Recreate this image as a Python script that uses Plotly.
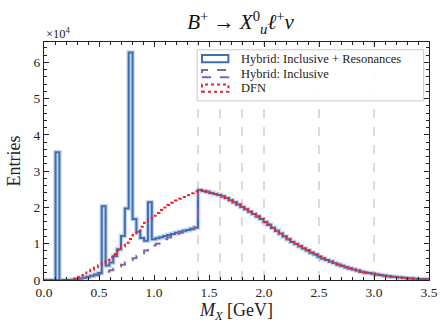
import numpy as np
import plotly.graph_objects as go

# ---- data (units of 1e4 entries), 100 bins of 0.035 GeV from 0 to 3.5 ----
bin_lo, bin_hi, n_bins = 0.0, 3.5, 100

tail = [2.48, 2.45, 2.43, 2.40, 2.37, 2.34, 2.30, 2.26, 2.20, 2.14,
        2.08, 2.01, 1.95, 1.88, 1.82, 1.75, 1.68, 1.60, 1.52, 1.44,
        1.36, 1.28, 1.20, 1.12, 1.05, 0.99, 0.93, 0.87, 0.81, 0.75,
        0.70, 0.64, 0.59, 0.55, 0.51, 0.47, 0.43, 0.39, 0.35, 0.32,
        0.29, 0.26, 0.23, 0.21, 0.19, 0.17, 0.15, 0.135, 0.12, 0.105,
        0.09, 0.08, 0.07, 0.06, 0.05, 0.042, 0.035, 0.03, 0.025, 0.02]

hybrid_res = [0, 0, 0, 3.52, 0, 0, 0, 0.01, 0.02, 0.04,
              0.06, 0.09, 0.12, 0.15, 0.19, 2.03, 0.40, 0.48, 0.66, 0.85,
              1.21, 1.97, 6.27, 1.68, 1.33, 1.16, 1.08, 2.14, 1.12, 1.15,
              1.18, 1.21, 1.24, 1.27, 1.30, 1.33, 1.36, 1.38, 1.41, 1.45] + tail

hybrid_incl = [0, 0, 0, 0, 0, 0, 0, 0.0, 0.02, 0.04,
               0.06, 0.08, 0.10, 0.13, 0.16, 0.19, 0.23, 0.27, 0.32, 0.37,
               0.42, 0.48, 0.54, 0.60, 0.67, 0.74, 0.81, 0.88, 0.95, 1.00,
               1.06, 1.12, 1.17, 1.22, 1.26, 1.30, 1.34, 1.37, 1.40, 1.44] + tail

dfn = [0, 0, 0, 0, 0, 0, 0.0, 0.02, 0.05, 0.09,
       0.14, 0.21, 0.28, 0.35, 0.41, 0.47, 0.55, 0.63, 0.72, 0.82,
       0.92, 1.03, 1.13, 1.24, 1.35, 1.47, 1.58, 1.68, 1.77, 1.85,
       1.93, 2.00, 2.07, 2.13, 2.19, 2.24, 2.29, 2.34, 2.39, 2.44] + tail

vlines = [1.4, 1.6, 1.8, 2.0, 2.5, 3.0]
x_ticks = [0.0, 0.5, 1.0, 1.5, 2.0, 2.5, 3.0, 3.5]
y_ticks = [0, 1, 2, 3, 4, 5, 6]
labels = ["Hybrid: Inclusive + Resonances", "Hybrid: Inclusive", "DFN"]
colors = ["#3f6fb3", "#8064a8", "#e8232a"]
dashes = ["solid", "dash", "dot"]

edges = np.linspace(bin_lo, bin_hi, n_bins + 1)

def step_xy(vals):
    xs = list(edges)
    ys = list(vals) + [vals[-1]]
    return xs, ys

FONT = "Liberation Serif"
fig = go.Figure()

# halo for blue histogram
xs, ys = step_xy(hybrid_res)
fig.add_trace(go.Scatter(x=xs, y=ys, mode="lines", line_shape="hv",
                         line=dict(color="rgba(63,111,179,0.30)", width=4.5),
                         hoverinfo="skip", showlegend=False))
for vals, col, dsh, lab in zip([hybrid_res, hybrid_incl, dfn], colors, dashes, labels):
    xs, ys = step_xy(vals)
    fig.add_trace(go.Scatter(x=xs, y=ys, mode="lines", line_shape="hv", name=lab,
                             line=dict(color=col, width=2, dash=dsh), showlegend=False))

shapes = []
for v in vlines:
    shapes.append(dict(type="line", xref="x", yref="paper", x0=v, x1=v, y0=0, y1=1,
                       line=dict(color="#cfcfcf", width=1.5, dash="dash"), layer="below"))

# custom legend (pixel -> paper conversion)
L, R, T, B = 44, 437.5, 42, 286.7
def px(xp): return (xp - L) / (R - L)
def py(yp): return (B - yp) / (B - T)

shapes.append(dict(type="rect", xref="paper", yref="paper",
                   x0=px(200.5), x1=px(432), y0=py(102.5), y1=py(50),
                   fillcolor="rgba(255,255,255,0.92)", line=dict(color="#cccccc", width=1)))
annotations = []
rows = [59, 74.5, 89.5]
for r, col, dsh, lab in zip(rows, colors, dashes, labels):
    shapes.append(dict(type="rect", xref="paper", yref="paper",
                       x0=px(205.5), x1=px(232.5), y0=py(r + 3.7), y1=py(r - 3.7),
                       line=dict(color=col, width=2, dash=dsh)))
    annotations.append(dict(xref="paper", yref="paper", x=px(243), y=py(r), text=lab,
                            showarrow=False, xanchor="left", yanchor="middle",
                            font=dict(family=FONT, size=12.5, color="#222222")))

annotations.append(dict(xref="paper", yref="paper", x=0, y=py(33), text="×10<sup>4</sup>",
                        showarrow=False, xanchor="left", yanchor="middle",
                        font=dict(family=FONT, size=12.5, color="#222222")))

fig.update_layout(
    width=448, height=327,
    margin=dict(l=44, r=10.5, t=42, b=40.3),
    paper_bgcolor="white", plot_bgcolor="white",
    title=dict(text="<i>B</i><sup>+</sup> → <i>X</i><sup>0</sup><sub><i>u</i></sub><i>ℓ</i><sup>+</sup><i>ν</i>",
               x=px(240.5) * (R - L) / 448 + L / 448, xanchor="center", y=1 - 22 / 327, yanchor="middle",
               font=dict(family=FONT, size=21, color="#111111")),
    font=dict(family=FONT, color="#222222"),
    shapes=shapes, annotations=annotations,
    showlegend=False,
)
fig.update_xaxes(range=[0, 3.5], tickvals=x_ticks, ticktext=[f"{v:.1f}" for v in x_ticks],
                 ticks="inside", ticklen=5, tickwidth=1, tickcolor="#222222",
                 showline=True, linecolor="#222222", linewidth=1.3, mirror="allticks",
                 showgrid=False, zeroline=False,
                 minor=dict(ticks="inside", dtick=0.1, ticklen=3, tickcolor="#222222", showgrid=False),
                 tickfont=dict(family=FONT, size=13.5),
                 title=dict(text="<i>M</i><sub><i>X</i></sub> [GeV]", font=dict(family=FONT, size=18), standoff=4))
fig.update_yaxes(range=[0, 6.56], tickvals=y_ticks, ticktext=[str(v) for v in y_ticks],
                 ticks="inside", ticklen=5, tickwidth=1, tickcolor="#222222",
                 showline=True, linecolor="#222222", linewidth=1.3, mirror="allticks",
                 showgrid=False, zeroline=False,
                 minor=dict(ticks="inside", dtick=0.2, ticklen=3, tickcolor="#222222", showgrid=False),
                 tickfont=dict(family=FONT, size=13.5),
                 title=dict(text="Entries", font=dict(family=FONT, size=18), standoff=8))

fig.write_html("out.html")
